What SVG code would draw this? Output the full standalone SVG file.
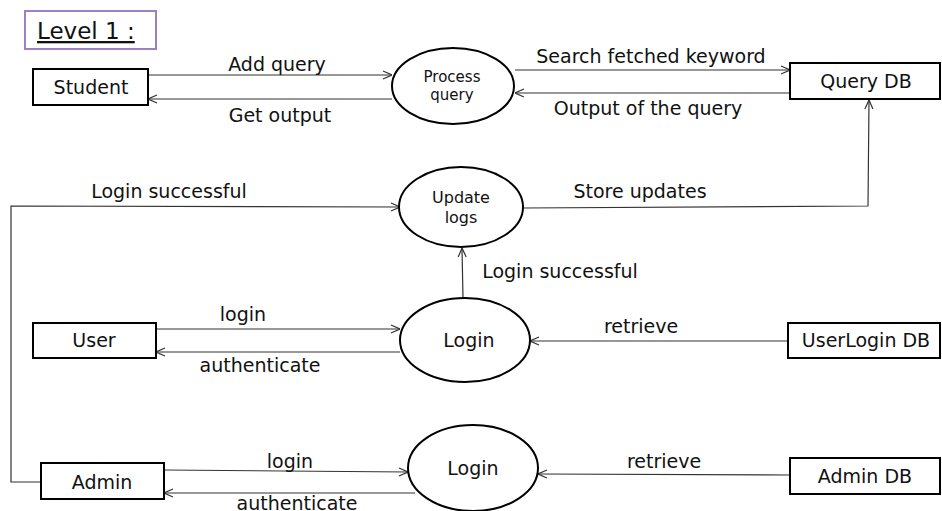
<svg xmlns="http://www.w3.org/2000/svg" width="942" height="511" viewBox="0 0 942 511">
<style>
.box{fill:#fff;stroke:#000;stroke-width:2}
.proc{fill:#fff;stroke:#000;stroke-width:2}
.flow{fill:none;stroke:#333;stroke-width:1.2}
text{font-family:"DejaVu Sans","Liberation Sans",sans-serif;fill:#111}
.lbl{font-size:19px;text-anchor:middle}
.nt{font-size:19px;text-anchor:middle}
</style>
<defs>
<marker id="ah" viewBox="0 0 10 10" refX="10" refY="5" markerWidth="10" markerHeight="10" markerUnits="userSpaceOnUse" orient="auto">
<path d="M1,1 L10,5 L1,9" fill="none" stroke="#333" stroke-width="1.2"/>
</marker>
</defs>

<g id="title">
<rect x="25" y="11" width="131" height="38" fill="#fff" stroke="#9b80c4" stroke-width="2"/>
<text x="37" y="39" style="font-size:23px;text-decoration:underline">Level 1 :</text>
</g>

<g id="connectors">
<line class="flow" x1="148" y1="75" x2="392" y2="75" marker-end="url(#ah)"/>
<line class="flow" x1="392" y1="99" x2="148" y2="99" marker-end="url(#ah)"/>
<line class="flow" x1="515" y1="70" x2="790" y2="70" marker-end="url(#ah)"/>
<line class="flow" x1="790" y1="93" x2="515" y2="93" marker-end="url(#ah)"/>
<polyline class="flow" points="523,208 868,206 869,100" marker-end="url(#ah)"/>
<polyline class="flow" points="41,482 11,482 11,206 400,207" marker-end="url(#ah)"/>
<line class="flow" x1="463" y1="298" x2="462" y2="248" marker-end="url(#ah)"/>
<line class="flow" x1="156" y1="329" x2="400" y2="329" marker-end="url(#ah)"/>
<line class="flow" x1="400" y1="352" x2="156" y2="352" marker-end="url(#ah)"/>
<line class="flow" x1="788" y1="341" x2="530" y2="341" marker-end="url(#ah)"/>
<line class="flow" x1="164" y1="470" x2="408" y2="472" marker-end="url(#ah)"/>
<line class="flow" x1="415" y1="493" x2="164" y2="493" marker-end="url(#ah)"/>
<line class="flow" x1="790" y1="475" x2="538" y2="474" marker-end="url(#ah)"/>
<text class="lbl" x="277" y="71">Add query</text>
<text class="lbl" x="280" y="122">Get output</text>
<text class="lbl" x="651" y="63">Search fetched keyword</text>
<text class="lbl" x="648" y="115">Output of the query</text>
<text class="lbl" x="169" y="198">Login successful</text>
<text class="lbl" x="640" y="198">Store updates</text>
<text class="lbl" x="560" y="278">Login successful</text>
<text class="lbl" x="243" y="321">login</text>
<text class="lbl" x="260" y="372">authenticate</text>
<text class="lbl" x="641" y="333">retrieve</text>
<text class="lbl" x="290" y="468">login</text>
<text class="lbl" x="297" y="510">authenticate</text>
<text class="lbl" x="664" y="468">retrieve</text>
</g>

<g id="student">
<rect class="box" x="33" y="69" width="115" height="36"/>
<text class="nt" x="91" y="94">Student</text>
</g>
<g id="process-query">
<ellipse class="proc" cx="453" cy="86" rx="61" ry="38"/>
<text x="452" y="82" style="font-size:15px;text-anchor:middle">Process</text>
<text x="452" y="100" style="font-size:15px;text-anchor:middle">query</text>
</g>
<g id="query-db">
<rect class="box" x="790" y="63" width="150" height="36"/>
<text class="nt" x="866" y="88">Query DB</text>
</g>
<g id="update-logs">
<ellipse class="proc" cx="461" cy="207" rx="62" ry="40"/>
<text x="461" y="203" style="font-size:16px;text-anchor:middle">Update</text>
<text x="461" y="223" style="font-size:16px;text-anchor:middle">logs</text>
</g>
<g id="user">
<rect class="box" x="33" y="323" width="123" height="35"/>
<text class="nt" x="94" y="347">User</text>
</g>
<g id="login-user">
<ellipse class="proc" cx="465" cy="340" rx="65" ry="42"/>
<text x="469" y="347" style="font-size:19px;text-anchor:middle">Login</text>
</g>
<g id="userlogin-db">
<rect class="box" x="788" y="323" width="152" height="35"/>
<text class="nt" x="866" y="347">UserLogin DB</text>
</g>
<g id="admin">
<rect class="box" x="41" y="463" width="123" height="36"/>
<text class="nt" x="102" y="489">Admin</text>
</g>
<g id="login-admin">
<ellipse class="proc" cx="473" cy="468" rx="65" ry="43"/>
<text x="473" y="475" style="font-size:19px;text-anchor:middle">Login</text>
</g>
<g id="admin-db">
<rect class="box" x="790" y="458" width="150" height="36"/>
<text class="nt" x="865" y="483">Admin DB</text>
</g>
</svg>
